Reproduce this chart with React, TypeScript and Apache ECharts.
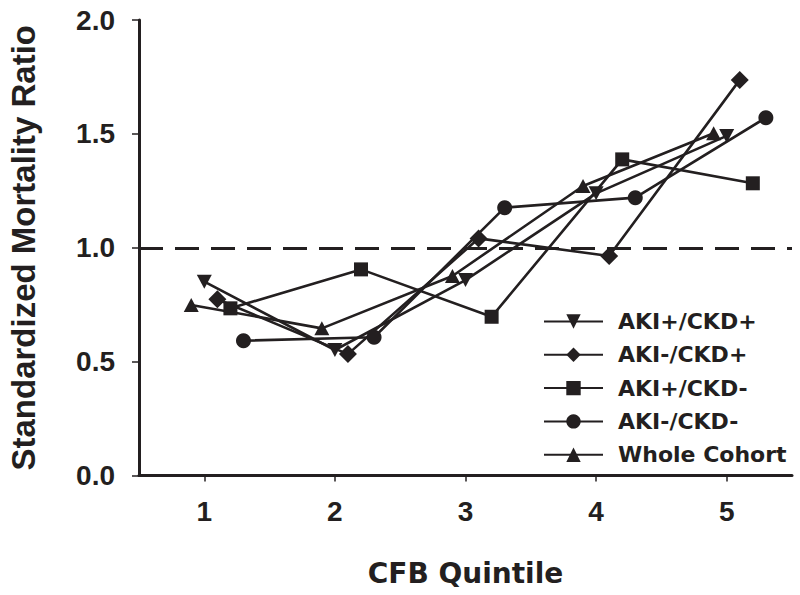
import React, { useEffect, useRef } from "react";
import * as echarts from "echarts";

// ---- Data ----
const quintiles = [1, 2, 3, 4, 5];
const seriesNames = ["AKI+/CKD+", "AKI-/CKD+", "AKI+/CKD-", "AKI-/CKD-", "Whole Cohort"];
// horizontal jitter of each group around the quintile position
const xOffsets = [0, 0.1, 0.2, 0.3, -0.1];
const akiPosCkdPos = [0.851, 0.551, 0.858, 1.239, 1.491];
const akiNegCkdPos = [0.774, 0.533, 1.041, 0.964, 1.737];
const akiPosCkdNeg = [0.734, 0.905, 0.697, 1.388, 1.283];
const akiNegCkdNeg = [0.592, 0.607, 1.176, 1.22, 1.571];
const wholeCohort = [0.749, 0.646, 0.876, 1.271, 1.503];
const seriesValues = [akiPosCkdPos, akiNegCkdPos, akiPosCkdNeg, akiNegCkdNeg, wholeCohort];
const yTickValues = [0, 0.5, 1, 1.5, 2];
const referenceLevel = 1.0;

const INK = "#231f20";
const symbols = [
  "path://M0,0L10,0L5,9Z",
  "diamond",
  "rect",
  "circle",
  "triangle",
];
const symbolSizes: any[] = [[15, 14], [18, 18], [14, 14], 15, [15, 14]];

export default function App() {
  const ref = useRef<HTMLDivElement>(null);
  useEffect(() => {
    if (!ref.current) return;
    const chart = echarts.init(ref.current, undefined, { renderer: "svg" });
    const series: any[] = seriesNames.map((name, i) => ({
      name,
      type: "line",
      data: quintiles.map((q, j) => [q + xOffsets[i], seriesValues[i][j]]),
      symbol: symbols[i],
      symbolSize: symbolSizes[i],
      showAllSymbol: true,
      lineStyle: { color: INK, width: 2.6 },
      itemStyle: { color: INK, borderWidth: 0 },
      emphasis: { disabled: true },
      z: 3,
      markLine:
        i === 0
          ? {
              silent: true,
              symbol: "none",
              label: { show: false },
              lineStyle: { color: INK, width: 3, type: [24, 12] },
              data: [{ yAxis: referenceLevel }],
              z: 2,
            }
          : undefined,
    }));

    chart.setOption({
      animation: false,
      backgroundColor: "#ffffff",
      grid: {
        left: 139,
        right: 8,
        top: 20,
        bottom: 119.5,
        containLabel: false,
        outerBoundsMode: "none",
      },
      legend: {
        orient: "vertical",
        left: 543,
        top: 310.5,
        padding: 0,
        itemWidth: 59,
        itemHeight: 18,
        itemGap: 11.3,
        selectedMode: false,
        textStyle: {
          fontFamily: "DejaVu Sans",
          fontWeight: "bold",
          fontSize: 22,
          color: INK,
          padding: [0, 0, 0, 10],
        },
        data: seriesNames,
      },
      xAxis: {
        type: "value",
        min: 0.5,
        max: 5.5,
        interval: 0.5,
        name: "CFB Quintile",
        nameLocation: "middle",
        nameGap: 84,
        nameTextStyle: {
          fontFamily: "DejaVu Sans",
          fontWeight: "bold",
          fontSize: 28,
          color: INK,
          lineHeight: 28,
        },
        splitLine: { show: false },
        axisLine: { show: true, onZero: false, lineStyle: { color: INK, width: 3 } },
        axisTick: {
          show: true,
          inside: false,
          length: 6,
          customValues: quintiles,
          lineStyle: { color: INK, width: 1.5 },
        },
        axisLabel: {
          show: true,
          customValues: quintiles,
          margin: 22,
          fontFamily: "Liberation Sans",
          fontWeight: "bold",
          fontSize: 28,
          lineHeight: 28,
          color: INK,
          formatter: (v: number) => (Number.isInteger(v) ? String(v) : ""),
        },
      },
      yAxis: {
        type: "value",
        min: 0,
        max: 2,
        interval: 0.5,
        name: "Standardized Mortality Ratio",
        nameLocation: "middle",
        nameRotate: 90,
        nameGap: 99,
        nameTextStyle: {
          fontFamily: "Liberation Sans",
          fontWeight: "bold",
          fontSize: 33,
          color: INK,
          lineHeight: 33,
        },
        splitLine: { show: false },
        axisLine: { show: true, lineStyle: { color: INK, width: 3 } },
        axisTick: { show: true, inside: false, length: 7, lineStyle: { color: INK, width: 1.5 } },
        axisLabel: {
          margin: 24,
          fontFamily: "Liberation Sans",
          fontWeight: "bold",
          fontSize: 28,
          color: INK,
          customValues: yTickValues,
          formatter: (v: number) => v.toFixed(1),
        },
      },
      series,
    });
    return () => chart.dispose();
  }, []);
  return <div ref={ref} style={{ width: 800, height: 595, position: "absolute", left: 0, top: 0 }} />;
}
